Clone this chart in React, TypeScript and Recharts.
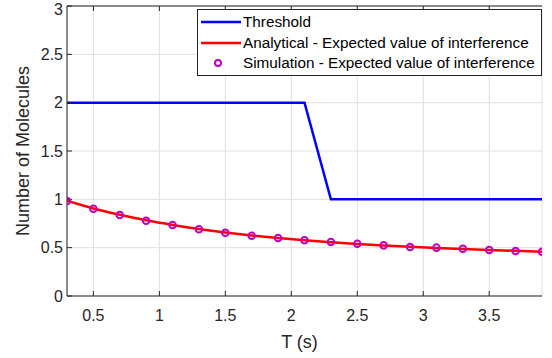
import {
  LineChart,
  Line,
  XAxis,
  YAxis,
  CartesianGrid,
} from "recharts";

// sampled periods T (s)
const tValues = [
  0.3, 0.5, 0.7, 0.9, 1.1, 1.3, 1.5, 1.7, 1.9, 2.1, 2.3, 2.5, 2.7, 2.9, 3.1,
  3.3, 3.5, 3.7, 3.9,
];
const thresholdValues = [2, 2, 2, 2, 2, 2, 2, 2, 2, 2, 1, 1, 1, 1, 1, 1, 1, 1, 1];
const analyticalValues = [
  0.985, 0.905, 0.84, 0.783, 0.735, 0.693, 0.657, 0.626, 0.6, 0.577, 0.557,
  0.539, 0.523, 0.509, 0.497, 0.486, 0.476, 0.467, 0.459,
];
const simulationValues = [
  0.983, 0.903, 0.838, 0.779, 0.734, 0.69, 0.655, 0.624, 0.6, 0.576, 0.558,
  0.541, 0.524, 0.507, 0.5, 0.489, 0.476, 0.465, 0.458,
];
const xTicks = [0.5, 1, 1.5, 2, 2.5, 3, 3.5];
const yTicks = [0, 0.5, 1, 1.5, 2, 2.5, 3];

const data = tValues.map((t, i) => ({
  t,
  threshold: thresholdValues[i],
  analytical: analyticalValues[i],
  simulation: simulationValues[i],
}));

const FONT = '"Liberation Sans", Arial, Helvetica, sans-serif';
const INK = "#262626";
const BLUE = "#0000ff";
const RED = "#ff0000";
const MAGENTA = "#bf00bf";

function LegendBox() {
  const row = { display: "flex", alignItems: "center", height: 20.5 } as const;
  return (
    <div
      style={{
        position: "absolute",
        left: 197,
        top: 9,
        border: `1px solid ${INK}`,
        background: "#fff",
        padding: "2px 6px 1px 3px",
        fontFamily: FONT,
        fontSize: 15.3,
        color: "#000",
        whiteSpace: "nowrap",
      }}
    >
      <div style={row}>
        <svg width={42} height={10}>
          <line x1={0} x2={40} y1={5} y2={5} stroke={BLUE} strokeWidth={2.5} />
        </svg>
        <span>Threshold</span>
      </div>
      <div style={row}>
        <svg width={42} height={10}>
          <line x1={0} x2={40} y1={5} y2={5} stroke={RED} strokeWidth={2.5} />
        </svg>
        <span>Analytical - Expected value of interference</span>
      </div>
      <div style={row}>
        <svg width={42} height={10}>
          <circle cx={17} cy={5} r={3} fill="none" stroke={MAGENTA} strokeWidth={2} />
        </svg>
        <span>Simulation - Expected value of interference</span>
      </div>
    </div>
  );
}

const YLabel = (props: any) => {
  const { viewBox } = props;
  const cy = viewBox.y + viewBox.height / 2;
  return (
    <text
      x={22.5}
      y={cy}
      transform={`rotate(-90, 22.5, ${cy})`}
      textAnchor="middle"
      dominantBaseline="central"
      fontFamily={FONT}
      fontSize={18}
      fill={INK}
    >
      Number of Molecules
    </text>
  );
};

const XLabel = (props: any) => {
  const { viewBox } = props;
  return (
    <text
      x={viewBox.x + viewBox.width / 2 - 5}
      y={342}
      textAnchor="middle"
      dominantBaseline="central"
      fontFamily={FONT}
      fontSize={18}
      fill={INK}
    >
      T (s)
    </text>
  );
};

const tickStyle = { fontFamily: FONT, fontSize: 16, fill: INK };

export default function App() {
  return (
    <div style={{ position: "relative", width: 552, height: 358, background: "#fff" }}>
      <style>{`body{margin:0}`}</style>
      <LineChart
        width={552}
        height={358}
        data={data}
        margin={{ top: 5, right: 10, bottom: 0, left: 0 }}
      >
        <CartesianGrid stroke="#e0e0e0" strokeWidth={1} />
        <XAxis
          dataKey="t"
          type="number"
          domain={[0.3, 3.9]}
          ticks={xTicks}
          allowDataOverflow
          height={62}
          stroke={INK}
          tickSize={-5}
          tickMargin={19}
          tick={tickStyle}
          label={<XLabel />}
        />
        <XAxis
          xAxisId="top"
          dataKey="t"
          type="number"
          orientation="top"
          domain={[0.3, 3.9]}
          ticks={xTicks}
          height={1}
          stroke={INK}
          tickSize={-5}
          tick={() => <g />}
        />
        <YAxis
          type="number"
          domain={[0, 3]}
          ticks={yTicks}
          width={67}
          stroke={INK}
          tickSize={-5}
          tickMargin={9}
          tick={tickStyle}
          label={<YLabel />}
        />
        <YAxis
          yAxisId="right"
          type="number"
          orientation="right"
          domain={[0, 3]}
          ticks={yTicks}
          width={0}
          stroke={INK}
          tickSize={-5}
          tick={() => <g />}
        />
        <Line
          dataKey="threshold"
          type="linear"
          stroke={BLUE}
          strokeWidth={2.5}
          dot={false}
          isAnimationActive={false}
        />
        <Line
          dataKey="analytical"
          type="monotone"
          stroke={RED}
          strokeWidth={2.5}
          dot={false}
          isAnimationActive={false}
        />
        <Line
          dataKey="simulation"
          stroke="none"
          strokeWidth={0}
          dot={{ r: 3.3, fill: "none", stroke: MAGENTA, strokeWidth: 2 }}
          isAnimationActive={false}
        />
      </LineChart>
      <LegendBox />
    </div>
  );
}
